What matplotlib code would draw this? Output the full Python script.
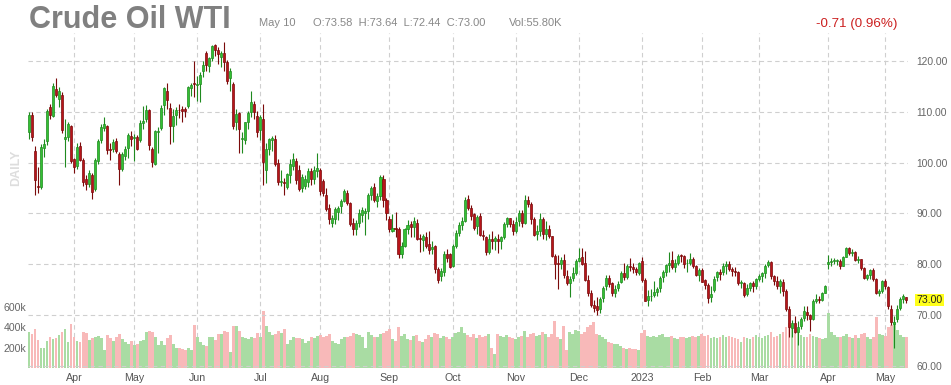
import numpy as np
import pandas as pd
import matplotlib
matplotlib.use('Agg')
import matplotlib.pyplot as plt
import matplotlib.transforms as mtransforms

plt.rcParams['font.family'] = ['Liberation Sans', 'DejaVu Sans']

# NYMEX holidays inside the range (no candles on those days)
feriados = ['2022-04-15', '2022-05-30', '2022-06-20', '2022-07-04', '2022-09-05',
            '2022-11-24', '2022-12-26', '2023-01-02', '2023-01-16', '2023-02-20',
            '2023-04-07']

# daily candles, one line per month (Mar 2022 .. May 2023)
aberturas = [
    106.1,109.4,102.3,95.4,95.3,102.8,104.2,111.0,109.1,114.5,112.5,113.3,104.6,105.0,107.2,
    100.7,99.4,103.3,100.5,96.8,95.8,97.6,94.8,100.4,104.4,106.9,107.2,102.6,102.6,104.2,101.6,98.8,101.4,102.8,105.3,
    104.8,105.1,104.5,107.8,108.5,110.4,102.7,99.8,106.0,106.9,111.4,114.0,110.8,107.2,109.4,110.4,110.5,110.6,111.2,114.7,115.6,
    115.3,115.4,118.0,121.6,119.0,120.6,123.2,122.2,120.8,121.6,119.7,116.6,115.4,108.0,109.8,104.6,104.5,107.9,109.9,111.6,109.2,
    106.4,108.6,98.6,102.7,104.4,104.7,99.9,96.2,96.1,95.2,97.5,99.4,100.3,98.6,95.1,95.4,96.1,98.4,96.7,98.4,
    98.6,96.3,93.7,91.1,88.2,88.9,90.3,91.4,92.4,94.1,92.1,88.2,86.9,88.2,89.6,90.0,90.5,93.7,95.3,92.5,93.4,96.8,92.6,
    88.9,86.6,87.0,86.9,82.0,83.6,86.9,88.0,87.4,88.2,85.1,84.8,85.3,83.9,83.0,83.6,79.0,77.7,78.4,82.0,82.0,
    79.6,83.6,86.2,87.8,88.6,92.9,91.1,89.8,87.5,89.5,85.8,85.3,82.4,85.0,84.5,85.0,84.6,85.3,88.0,89.1,88.0,
    86.6,88.5,90.0,88.2,92.6,91.8,89.0,85.9,86.5,89.0,85.9,86.9,85.5,81.7,80.3,80.0,80.9,77.6,76.3,77.3,78.3,
    80.6,81.4,80.2,77.0,74.3,72.0,71.8,71.3,73.4,75.7,77.3,76.4,74.4,75.3,76.6,78.3,77.5,79.6,79.5,79.0,78.3,
    80.6,77.0,73.0,73.7,73.9,74.6,75.3,77.5,78.4,79.9,80.8,79.5,80.3,81.7,81.6,80.2,80.2,81.0,79.6,77.9,
    78.9,76.9,75.9,73.6,74.9,77.5,78.5,78.5,79.7,80.1,79.1,78.6,78.4,76.3,76.3,74.1,75.4,76.3,75.7,
    77.1,77.6,78.3,79.8,80.5,77.7,76.7,75.7,76.6,74.8,71.3,67.4,68.5,66.7,67.9,69.4,70.7,70.0,69.3,72.8,73.2,73.0,74.4,
    80.1,80.4,80.6,80.6,80.7,79.7,81.5,83.3,82.2,82.5,80.8,81.0,79.2,77.4,77.9,78.9,77.1,74.3,74.8,
    76.8,75.6,71.3,68.3,69.2,71.5,73.2,73.58,
]
maximas = [
    110.0,109.9,103.2,99.1,103.6,104.6,110.6,111.6,115.6,116.6,114.8,113.8,108.6,108.0,107.5,
    101.0,103.8,104.0,101.0,97.5,98.6,98.0,101.0,104.6,107.6,108.9,107.4,103.8,104.7,104.8,102.0,102.0,103.2,105.9,106.2,
    105.6,105.4,108.3,111.2,111.4,110.6,103.0,106.4,107.0,111.3,114.8,115.6,111.7,110.6,110.9,111.5,111.2,111.0,115.0,115.6,119.9,
    117.0,117.8,120.0,122.0,120.8,123.2,123.4,122.8,122.0,123.8,120.1,118.6,115.8,110.6,110.0,106.0,107.9,110.1,114.0,112.1,110.2,
    109.3,111.5,103.9,104.9,105.3,105.5,100.8,98.6,96.9,98.0,100.8,101.9,101.0,99.5,97.8,97.6,98.9,99.0,99.3,101.9,
    99.0,96.8,95.0,91.8,89.6,91.2,91.4,92.9,94.9,94.6,92.3,89.1,88.8,90.8,91.3,91.0,94.1,95.5,95.9,94.0,97.6,97.6,93.0,
    89.5,89.8,90.2,87.3,84.3,87.2,88.7,88.6,89.3,88.9,86.0,86.0,86.3,86.6,84.5,83.8,79.5,79.2,82.7,83.0,82.3,
    84.0,86.8,88.4,89.3,93.3,93.6,91.6,90.0,89.6,90.0,86.7,85.6,86.0,86.5,85.6,85.9,85.5,88.4,89.4,89.2,88.7,
    89.3,90.6,90.6,93.7,93.4,92.3,89.4,87.7,90.1,89.3,88.6,87.8,85.6,82.0,81.8,81.5,82.0,78.9,77.7,79.5,81.0,
    83.3,83.3,82.6,77.9,75.0,73.0,73.5,73.6,75.7,77.8,77.8,76.6,76.0,76.8,78.6,80.3,80.0,81.2,80.3,79.4,80.5,
    81.5,77.4,74.9,75.2,76.7,75.5,77.6,78.8,80.0,82.4,82.6,81.0,82.0,82.0,81.8,81.0,82.3,81.4,79.9,79.3,
    79.3,77.2,76.3,75.8,77.6,78.6,79.0,80.3,80.6,80.6,79.5,79.4,78.6,77.0,76.6,76.1,76.6,76.8,77.3,
    78.0,78.4,80.0,80.9,80.7,77.9,77.6,77.1,77.2,75.2,71.8,69.0,69.8,68.9,69.6,71.7,71.7,70.3,73.1,74.2,73.8,74.6,76.0,
    81.8,81.3,81.3,81.0,81.0,81.7,83.5,83.4,83.1,82.7,81.7,81.1,79.5,78.1,79.1,79.2,77.4,75.2,76.9,
    77.1,75.8,71.9,69.9,71.9,73.5,74.1,73.64,
]
minimas = [
    104.6,104.3,93.7,94.0,94.8,101.2,103.5,108.6,108.9,112.9,111.0,105.9,99.2,104.2,100.0,
    98.0,98.8,100.3,95.5,94.6,95.2,92.9,94.5,99.8,103.8,106.2,101.6,100.5,102.0,101.8,95.6,98.3,100.6,100.9,103.2,
    100.4,102.4,104.0,106.6,107.9,102.5,99.2,99.5,101.8,106.5,109.4,110.6,103.6,104.1,107.5,108.8,108.0,108.9,110.7,113.2,113.0,
    112.1,112.0,116.8,118.0,117.8,120.0,120.9,119.4,118.8,118.0,115.4,114.0,106.7,106.5,101.8,101.9,103.6,106.6,109.0,108.6,105.0,
    104.5,95.6,96.0,101.5,102.2,99.4,95.6,95.4,93.6,94.8,96.0,98.6,95.8,94.5,94.3,94.8,95.2,95.6,95.8,97.2,
    93.6,93.5,90.4,87.9,87.3,88.0,88.8,90.0,92.2,91.7,87.5,85.7,85.8,87.4,88.4,85.8,88.9,92.6,92.3,91.3,92.7,91.2,88.7,
    86.4,86.3,85.4,81.2,81.3,83.4,86.0,85.3,85.3,84.7,82.5,82.7,83.3,82.1,82.0,78.2,76.3,76.8,77.6,80.4,79.2,
    79.5,83.3,85.5,86.8,88.3,90.7,88.8,86.8,86.0,85.5,84.8,81.8,82.1,83.0,82.8,82.2,83.1,84.9,87.3,87.3,85.8,
    86.2,87.6,87.3,87.9,91.2,88.0,85.5,84.8,85.6,84.9,84.8,85.1,81.4,77.2,75.2,79.0,77.3,75.9,73.6,76.7,77.9,
    80.4,79.9,76.8,73.8,71.6,70.6,70.1,70.4,72.6,75.0,75.6,73.8,73.6,74.8,76.3,77.0,77.2,78.7,78.3,77.8,77.9,
    76.6,72.7,71.8,72.7,73.6,73.8,74.6,76.6,77.6,78.5,79.0,78.5,79.9,80.4,79.2,78.4,79.8,79.3,77.7,76.8,
    76.5,75.2,72.3,72.6,74.5,76.7,76.9,77.9,78.0,78.6,77.6,77.7,75.9,75.3,73.6,73.8,74.8,74.6,75.1,
    76.7,76.6,77.4,79.5,77.2,75.9,75.1,74.4,73.8,70.9,65.6,65.7,66.4,64.1,67.3,68.9,69.0,66.8,69.1,72.4,72.3,72.8,74.3,
    79.0,79.6,80.0,79.8,79.0,79.6,81.4,81.9,81.6,80.6,80.2,78.8,77.1,76.9,77.2,76.8,74.1,73.8,74.4,
    75.1,71.2,68.1,63.6,68.7,71.1,72.3,72.44,
]
fechamentos = [
    109.3,105.1,96.6,95.2,103.1,103.6,110.1,109.3,115.1,113.3,114.0,106.4,105.1,107.6,100.3,
    99.1,103.0,100.6,96.2,95.7,98.0,94.3,100.6,104.3,107.1,107.6,102.4,102.5,104.1,102.3,98.7,101.7,102.6,105.5,104.6,
    105.1,102.7,107.7,108.2,110.3,103.4,100.2,106.2,106.3,110.8,114.6,112.4,107.2,109.1,110.4,110.3,110.2,110.1,114.8,115.3,115.4,
    115.5,117.3,119.3,119.3,120.6,122.9,122.2,121.4,121.5,119.7,116.1,118.0,107.3,109.6,106.6,104.8,107.9,109.8,112.0,110.0,106.1,
    108.9,100.2,102.7,104.6,104.8,99.8,96.1,96.3,96.0,97.8,99.8,100.8,96.5,94.8,97.2,96.7,98.4,96.7,98.6,99.0,
    94.4,94.1,90.8,88.9,89.2,90.8,91.0,92.4,94.4,92.1,87.9,86.9,88.2,90.1,90.6,90.4,93.7,95.0,92.7,93.4,97.1,92.6,90.0,
    86.9,87.2,86.9,82.0,83.6,86.9,87.8,87.3,88.5,85.0,85.0,85.6,83.6,82.9,83.5,79.0,77.0,78.7,82.0,81.2,79.4,
    83.6,86.2,87.8,88.5,92.6,91.1,89.5,87.2,89.4,85.8,85.5,82.4,85.0,84.5,85.1,84.6,85.3,87.9,89.1,87.9,86.5,
    88.4,90.0,88.2,92.6,91.8,88.9,85.8,86.5,89.0,85.9,86.9,85.6,81.6,80.1,80.0,80.9,77.9,76.3,77.2,78.2,80.6,
    81.2,80.0,76.9,74.3,72.0,71.5,71.0,73.2,75.4,77.3,76.1,74.3,75.2,76.2,78.3,77.5,79.6,79.5,79.0,78.4,80.3,
    76.9,72.8,73.7,73.8,74.6,75.1,77.4,78.4,79.9,80.2,79.5,80.3,81.6,81.6,80.1,80.2,81.0,79.7,77.9,78.9,
    76.6,75.9,73.4,74.1,77.1,78.5,78.1,79.7,80.1,79.1,78.6,78.5,76.3,76.4,74.0,75.4,76.3,75.7,77.1,
    77.7,78.2,79.7,80.5,77.6,76.7,75.7,76.7,74.8,71.3,67.6,68.4,66.7,67.6,69.3,70.9,70.0,69.3,72.8,73.2,73.0,74.4,75.7,
    80.4,80.7,80.6,80.7,79.7,81.5,83.3,82.2,82.5,80.8,80.9,79.2,77.4,77.9,78.8,77.1,74.3,74.8,76.8,
    75.7,71.7,68.6,68.6,71.3,73.2,73.7,73.00,
]
# volume in thousands of contracts
volumes = [
    355,330,385,275,200,200,260,300,280,290,320,350,380,250,430,
    300,260,250,350,340,270,290,300,310,290,180,320,290,260,300,330,280,250,230,260,
    220,230,260,270,350,360,350,300,220,260,220,290,320,230,200,200,190,180,200,180,420,
    300,250,220,210,300,300,270,330,330,360,350,155,410,410,360,300,290,280,300,290,340,
    300,560,410,350,320,330,360,340,380,230,270,300,290,290,280,240,260,300,290,310,
    320,300,310,330,260,240,230,280,300,300,310,340,330,320,300,200,350,320,300,300,330,340,360,
    380,280,260,400,310,330,280,270,310,320,260,250,280,320,300,340,330,290,310,300,280,
    300,340,350,400,340,320,300,330,290,320,300,310,330,200,140,330,310,300,320,300,290,
    280,300,310,360,300,330,340,310,320,350,330,300,330,460,300,280,410,180,350,330,370,
    360,330,350,400,420,450,330,320,300,280,250,240,230,230,210,200,190,200,190,190,180,
    340,370,310,300,310,300,320,330,300,300,310,290,280,300,300,290,300,310,300,310,
    330,310,320,290,300,290,300,320,300,310,300,290,280,250,300,290,280,300,320,
    300,290,310,320,350,300,310,330,350,400,440,420,350,380,320,300,300,330,310,300,290,280,290,
    540,350,320,300,300,310,330,300,290,320,290,330,340,300,280,300,500,330,320,
    310,400,420,450,370,320,300,300,
]
precos_eixo = [60, 70, 80, 90, 100, 110, 120]
vol_eixo = [200, 400, 600]
ultimo = 73.00

datas = pd.bdate_range('2022-03-11', '2023-05-10', freq='C', holidays=feriados)
n = len(fechamentos)
datas = datas[:n]
x = np.arange(n)

o = np.array(aberturas)
h = np.array(maximas)
l = np.array(minimas)
c = np.array(fechamentos)
alta = c >= o

# first candle of each month -> tick
inicio_mes = [0] + [i for i in range(1, n) if datas[i].month != datas[i - 1].month]
inicio_mes = [i for i in inicio_mes if datas[i].day <= 5]
rotulos = [('%d' % datas[i].year) if datas[i].month == 1 else datas[i].strftime('%b') for i in inicio_mes]

fig = plt.figure(figsize=(9.51, 3.85), dpi=100)
W, H = 951.0, 385.0
esq, dir_, topo, base = 27.5, 907.7, 33.0, 368.0
axv = fig.add_axes([esq / W, 1 - base / H, (dir_ - esq) / W, (base - topo) / H])
axp = axv.twinx()

cinza_grade = '#cfcfcf'

# volume (left scale)
cor_vol = np.where(alta, '#a9dca3', '#f8b9b9')
axv.bar(x, volumes, width=0.95, color=cor_vol, linewidth=0)
axv.set_ylim(0, 3270)
axv.set_xlim(-0.5, n - 0.5)
axv.set_yticks(vol_eixo)
axv.set_yticklabels(['%dk' % v for v in vol_eixo])
axv.set_xticks(inicio_mes)
axv.set_xticklabels(rotulos)
axv.tick_params(axis='y', length=0, pad=1, labelsize=7.6, labelcolor='#666666')
axv.tick_params(axis='x', length=0, pad=3.5, labelsize=7.7, labelcolor='#555555')
axv.grid(axis='x', color=cinza_grade, linestyle=(0, (4, 3)), linewidth=0.8)
axv.set_axisbelow(True)

# candles (right scale)
borda = np.where(alta, '#1f8a1f', '#7a0a0a')
corpo = np.where(alta, '#33c033', '#b8141a')
axp.vlines(x, l, h, colors=borda, linewidth=0.8, zorder=3)
altura = np.maximum(np.abs(c - o), 0.15)
axp.bar(x, altura, bottom=np.minimum(o, c), width=0.68, color=corpo,
        edgecolor=borda, linewidth=0.5, zorder=4)
axp.set_ylim(59.6, 125.5)
axp.set_yticks(precos_eixo)
axp.set_yticklabels(['%.2f' % p for p in precos_eixo])
axp.tick_params(axis='y', length=0, pad=6, labelsize=7.4, labelcolor='#666666')
axp.grid(axis='y', color=cinza_grade, linestyle=(0, (4, 3)), linewidth=0.8)
axp.set_axisbelow(True)

for a in (axv, axp):
    for s in a.spines.values():
        s.set_visible(False)

# last price tag
trans = mtransforms.blended_transform_factory(axp.transAxes, axp.transData)
axp.text(1.0 + 9 / (dir_ - esq), ultimo, '%.2f' % ultimo, transform=trans,
         ha='left', va='center', fontsize=7.6, color='#222222', zorder=10,
         bbox=dict(boxstyle='square,pad=0.12', facecolor='#ffff1a', edgecolor='none'))

# header
fig.text(29 / W, 1 - 27.5 / H, 'Crude Oil WTI', fontsize=22, fontweight='bold',
         color='#808080', ha='left', va='baseline')
fig.text(259 / W, 1 - 26.5 / H, 'May 10', fontsize=8, color='#888888', ha='left', va='baseline')
fig.text(313 / W, 1 - 26.5 / H, 'O:73.58  H:73.64  L:72.44  C:73.00', fontsize=8,
         color='#888888', ha='left', va='baseline')
fig.text(509 / W, 1 - 26.5 / H, 'Vol:55.80K', fontsize=8, color='#888888', ha='left', va='baseline')
fig.text(897 / W, 1 - 27.5 / H, '-0.71 (0.96%)', fontsize=9.6, color='#cc2020',
         ha='right', va='baseline')
fig.text(16 / W, 1 - 168 / H, 'DAILY', fontsize=9, fontweight='bold', color='#dddddd',
         rotation=90, ha='center', va='center')

fig.savefig('out.png', dpi=100)
